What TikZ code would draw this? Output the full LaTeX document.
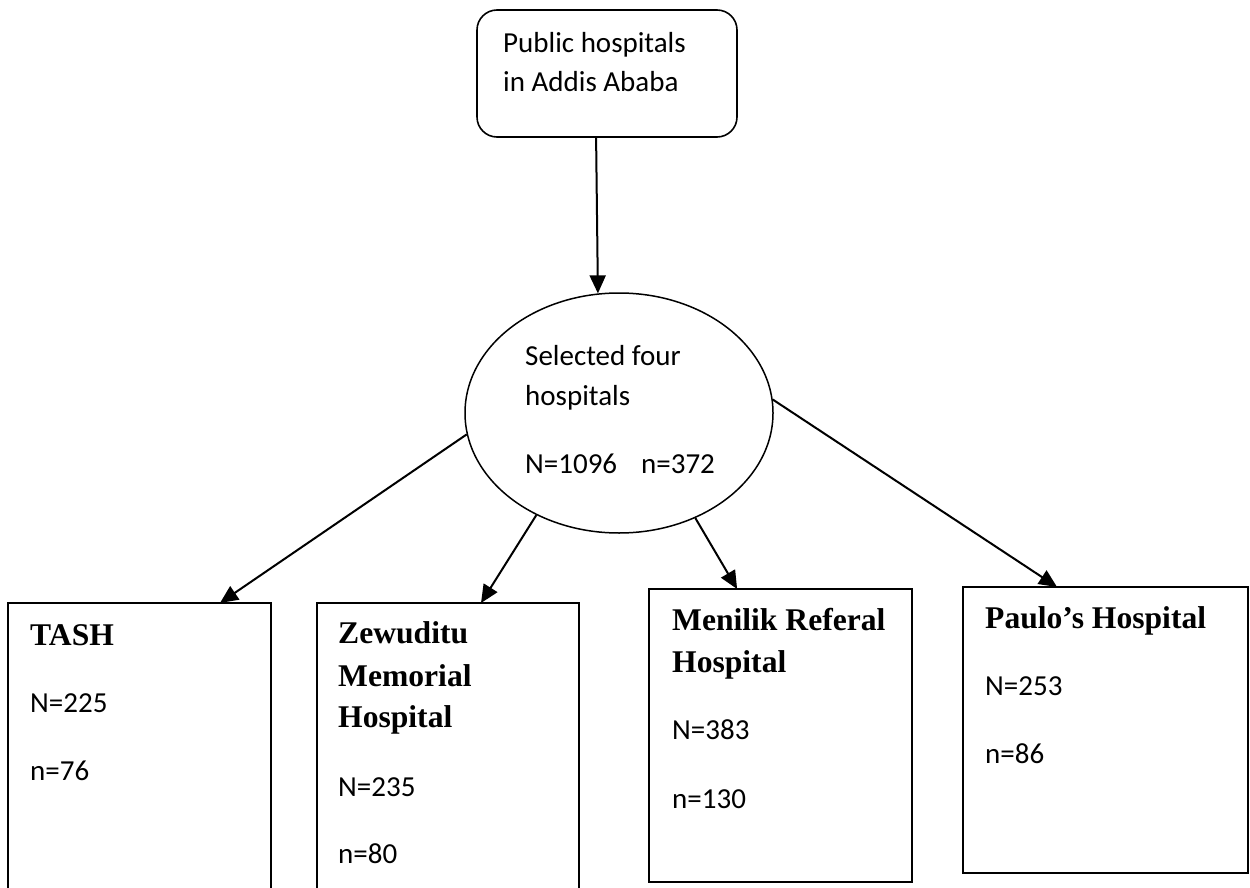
\documentclass[tikz,border=0pt]{standalone}
\usepackage{fontspec}
\setmainfont{Carlito}
\newfontfamily\tnr{Liberation Serif}
\usetikzlibrary{arrows.meta,calc,shapes.geometric}
\begin{document}
\begin{tikzpicture}[x=1pt,y=-1pt,
  box/.style={draw, line width=1.8pt, rectangle, inner sep=0pt, outer sep=0pt, anchor=north west},
  txt/.style={anchor=base west, inner sep=0pt, font=\fontsize{29}{35}\selectfont},
  hdr/.style={anchor=base west, inner sep=0pt, font=\tnr\bfseries\fontsize{31.6}{38}\selectfont},
  arr/.style={-{Triangle[length=18pt,width=16pt]}, line width=2pt}]
\useasboundingbox (0,0) rectangle (1250,888);
\clip (0,0) rectangle (1250,888);
% top box
\node[box, rounded corners=20pt, line width=1.6pt, minimum width=260pt, minimum height=127pt] (top) at (477,10) {};
\node[txt] (t1) at (503,53) {Public hospitals};
\node[txt] (t2) at (503,92) {in Addis Ababa};
% ellipse
\node[draw, ellipse, line width=1.5pt, inner sep=0pt, minimum width=308pt, minimum height=240pt] (ell) at (619,413) {};
\node[txt] (e1) at (525,365) {Selected four};
\node[txt] (e2) at (525,405) {hospitals};
\node[txt] (e3) at (525,473) {N=1096\hspace{0.6em} n=372};
% bottom boxes
\node[box, minimum width=263pt, minimum height=300pt] (tash) at (8,603) {};
\node[hdr] (tashh) at (30,645) {TASH};
\node[txt] (tashN) at (30,712) {N=225};
\node[txt] (tashn) at (30,780) {n=76};

\node[box, minimum width=262pt, minimum height=300pt] (zew) at (317,603) {};
\node[hdr] (zew1) at (338,643) {Zewuditu};
\node[hdr] (zew2) at (338,686) {Memorial};
\node[hdr] (zew3) at (338,727) {Hospital};
\node[txt] (zewN) at (338,796) {N=235};
\node[txt] (zewn) at (338,863) {n=80};

\node[box, minimum width=263pt, minimum height=293pt] (men) at (649,589) {};
\node[hdr] (men1) at (672,630) {Menilik Referal};
\node[hdr] (men2) at (672,672) {Hospital};
\node[txt] (menN) at (672,739) {N=383};
\node[txt] (menn) at (672,808) {n=130};

\node[box, minimum width=285pt, minimum height=286pt] (pau) at (963,587) {};
\node[hdr] (pau1) at (985,628) {Paulo’s Hospital};
\node[txt] (pauN) at (985,695) {N=253};
\node[txt] (paun) at (985,763) {n=86};
% connectors
\draw[arr] ($(top.south west)!0.458!(top.south east)$) -- (ell.100.5);
\draw[arr] (ell.188) -- ($(tash.north west)!0.806!(tash.north east)$);
\draw[arr] (ell.231) -- ($(zew.north west)!0.626!(zew.north east)$);
\draw[arr] (ell.306) -- ($(men.north west)!0.335!(men.north east)$);
\draw[arr] (ell.5) -- ($(pau.north west)!0.33!(pau.north east)$);
\end{tikzpicture}
\end{document}
